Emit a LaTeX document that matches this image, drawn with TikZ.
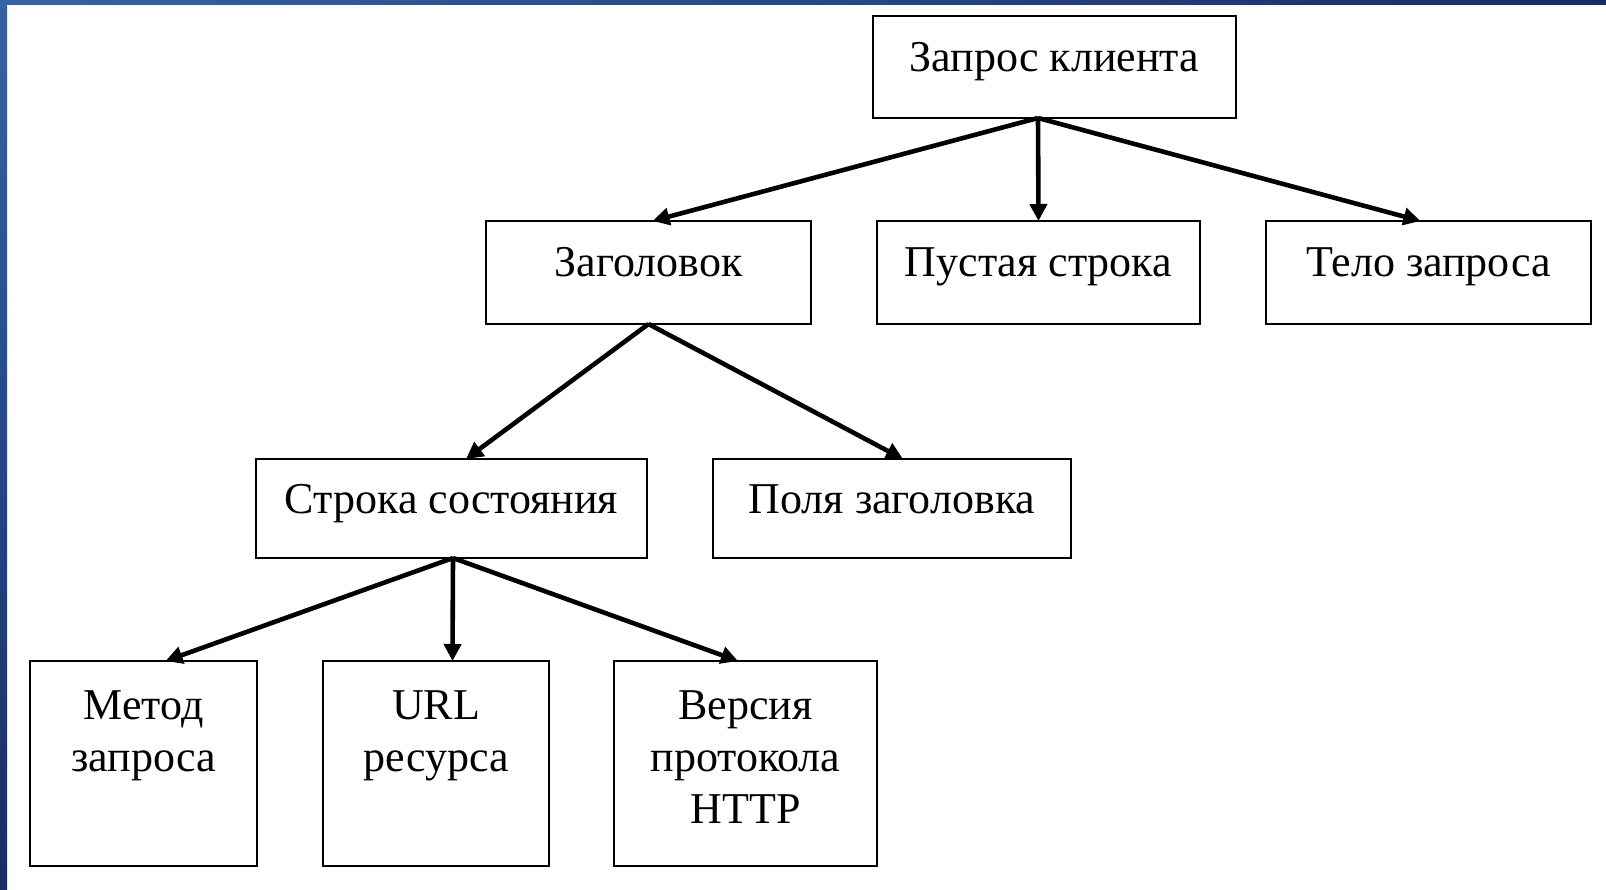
\documentclass[tikz,border=0pt]{standalone}
\usepackage{fontspec}
\setmainfont{Liberation Serif}
\usetikzlibrary{arrows.meta}
\definecolor{bandA}{RGB}{52,100,164}
\definecolor{bandB}{RGB}{24,44,104}
\begin{document}
\begin{tikzpicture}[x=1pt,y=-1pt,
  box/.style={draw=black, line width=2.4pt, rectangle, anchor=north west, inner sep=0pt, outer sep=0pt},
  lbl/.style={anchor=base, inner sep=0pt, font=\fontsize{44}{52}\selectfont},
  arr/.style={line width=4.6pt, -{Triangle[length=17pt,width=17pt]}}]
\useasboundingbox (0,0) rectangle (1606,890);
\fill[white] (0,0) rectangle (1606,890);
\shade[left color=bandA, right color=bandB] (0,0) rectangle (1606,5);
\shade[top color=bandA, bottom color=bandB] (0,0) rectangle (7,890);
% boxes
\node[box, minimum width=363pt, minimum height=102pt] (q) at (873,16) {};
\node[box, minimum width=325pt, minimum height=103pt] (z) at (486,221) {};
\node[box, minimum width=323pt, minimum height=103pt] (p) at (877,221) {};
\node[box, minimum width=325pt, minimum height=103pt] (t) at (1266,221) {};
\node[box, minimum width=391pt, minimum height=99pt] (s) at (256,459) {};
\node[box, minimum width=358pt, minimum height=99pt] (f) at (713,459) {};
\node[box, minimum width=227pt, minimum height=205pt] (m) at (30,661) {};
\node[box, minimum width=226pt, minimum height=205pt] (u) at (323,661) {};
\node[box, minimum width=263pt, minimum height=205pt] (v) at (614,661) {};
% labels
\node[lbl] (tq) at (1054.5,72) {Запрос клиента};
\node[lbl] (tz) at (648.5,277) {Заголовок};
\node[lbl] (tp) at (1038.5,277) {Пустая строка};
\node[lbl] (tt) at (1428.5,277) {Тело запроса};
\node[lbl] (ts) at (451.5,513) {Строка состояния};
\node[lbl] (tf) at (892,513) {Поля заголовка};
\node[lbl] (tm1) at (143.5,719) {Метод};
\node[lbl] (tm2) at (143.5,771) {запроса};
\node[lbl] (tu1) at (436,719) {URL};
\node[lbl] (tu2) at (436,771) {ресурса};
\node[lbl] (tv1) at (745.5,719) {Версия};
\node[lbl] (tv2) at (745.5,771) {протокола};
\node[lbl] (tv3) at (745.5,823) {HTTP};
% connectors
\draw[arr] ([xshift=-16.5pt]q.south) -- ([xshift=4pt]z.north);
\draw[arr] ([xshift=-16.5pt]q.south) -- (p.north);
\draw[arr] ([xshift=-16.5pt]q.south) -- ([xshift=-8pt]t.north);
\draw[arr] ([xshift=0pt]z.south) -- ([xshift=14.5pt]s.north);
\draw[arr] ([xshift=0pt]z.south) -- ([xshift=11pt]f.north);
\draw[arr] ([xshift=1.5pt]s.south) -- ([xshift=22pt]m.north);
\draw[arr] ([xshift=1.5pt]s.south) -- ([xshift=16.5pt]u.north);
\draw[arr] ([xshift=1.5pt]s.south) -- ([xshift=-7.5pt]v.north);
\end{tikzpicture}
\end{document}
